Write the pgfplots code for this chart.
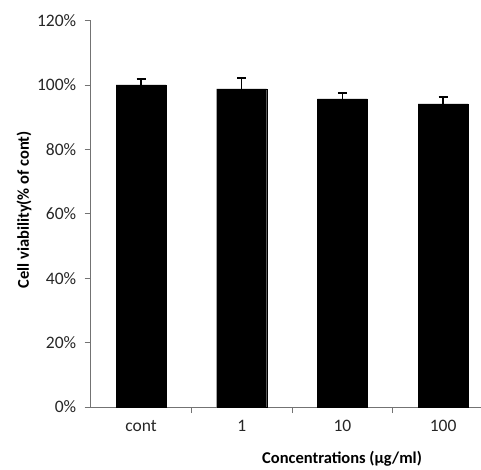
\documentclass[border=0pt]{standalone}
\usepackage{pgfplots}
\pgfplotsset{compat=1.18}
\usepackage{fontspec}
\setmainfont{Carlito}
\pgfplotstableread{
x val err
0 100.0 1.9
1 98.8 3.4
2 95.7 1.8
3 94.1 2.2
}\datatable
\begin{document}
\begin{tikzpicture}[x=1pt,y=1pt]
\path[use as bounding box] (0,0) rectangle (481,469);
\begin{axis}[
  at={(90.7pt,62pt)}, anchor=south west,
  width=390.3pt, height=386.4pt, scale only axis,
  xmin=-0.5, xmax=3.376, ymin=0, ymax=120,
  axis x line=bottom, axis y line=left,
  axis line style={draw=gray!90!black, line width=0.9pt, -},
  xtick={0,1,2,3}, xticklabels={cont,1,10,100},
  minor xtick={0.5,1.5,2.5},
  major x tick style={draw=none},
  minor tick length=6pt,
  minor x tick style={draw=gray!90!black, line width=0.9pt},
  tick align=outside,
  ytick={0,20,...,120},
  y tick style={draw=gray!90!black, line width=0.9pt},
  major tick length=6pt,
  yticklabel={\pgfmathprintnumber{\tick}\%},
  /pgf/number format/assume math mode=true,
  tick label style={font=\fontsize{17.5}{19}\selectfont, text=black!85},
  xticklabel style={yshift=-4pt},
  yticklabel style={xshift=-5pt},
  xlabel={\textbf{Concentrations (µg/ml)}},
  ylabel={\textbf{Cell viability(\% of cont)}},
  label style={font=\fontsize{16.5}{18}\selectfont, text=black},
  xlabel style={at={(axis description cs:0.644,-0.133)}, anchor=center},
  ylabel style={at={(axis description cs:-0.171,0.51)}, anchor=center},
  clip=false,
]
\addplot[ybar, bar width=50pt, fill=black, draw=black,
  error bars/.cd, y dir=plus, y explicit,
  error bar style={line width=1.5pt, black},
  error mark options={rotate=90, mark size=4.5pt, line width=1.5pt, black}]
  table[x=x, y=val, y error=err] {\datatable};
\end{axis}
\end{tikzpicture}
\end{document}
